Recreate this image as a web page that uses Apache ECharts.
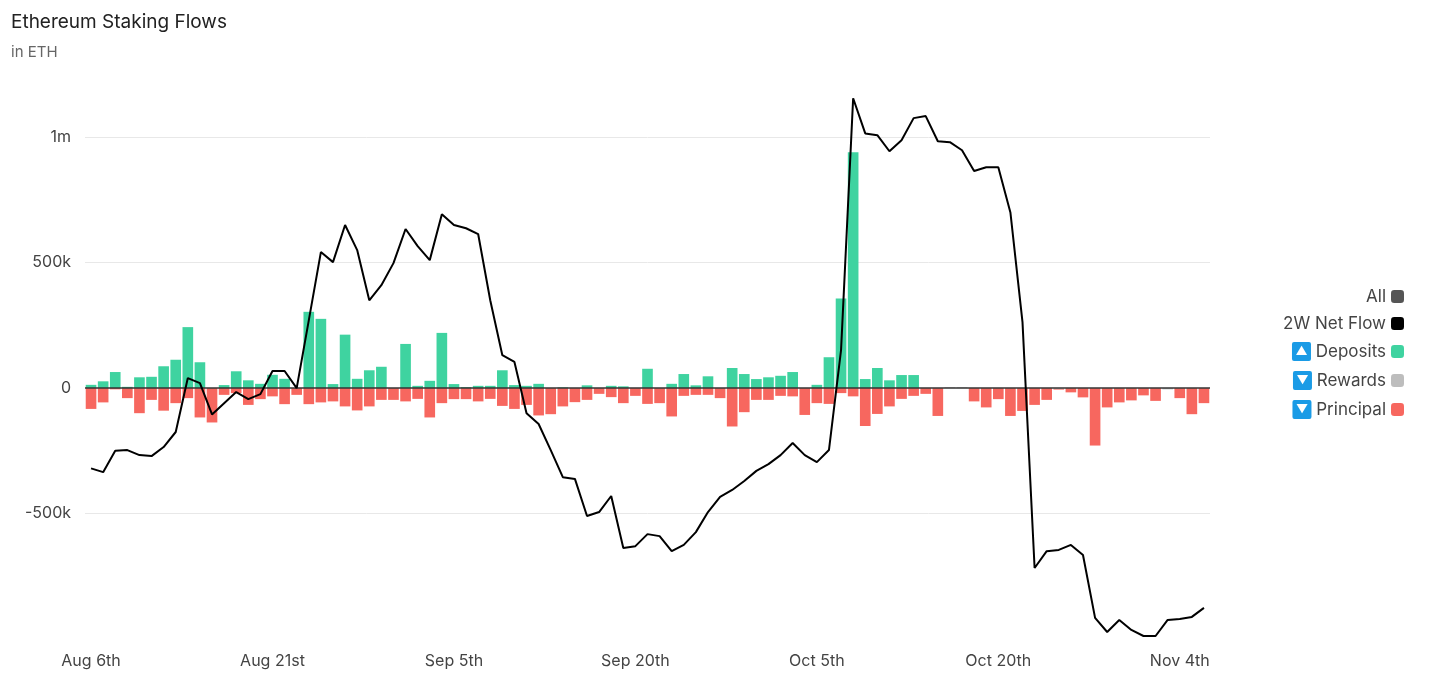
<!DOCTYPE html>
<html><head><meta charset="utf-8">
<script src="https://cdn.jsdelivr.net/npm/echarts@6/dist/echarts.min.js"></script>
<style>html,body{margin:0;padding:0;background:#fff}#c{width:1431px;height:677px}</style>
</head><body><div id="c"></div>
<script>
const months=['Aug','Sep','Oct','Nov'];
function buildDates(){const out=[];const d=new Date(Date.UTC(2024,7,6));for(let i=0;i<93;i++){const m=d.getUTCMonth(),day=d.getUTCDate();const suf=(day%10===1&&day!==11)?'st':(day%10===2&&day!==12)?'nd':(day%10===3&&day!==13)?'rd':'th';out.push(months[m-7]+' '+day+suf);d.setUTCDate(day+1);}return out;}
const categories=buildDates();
const gridValues=[-500000,500000,1000000];
const deposits=[13,27,64,5,43,45,87,113,243,103,0,12,67,31,17,53,37,0,304,276,16,213,37,71,85,0,176,9,29,220,16,4,9,9,71,12,9,17,0,3,0,11,0,9,7,0,77,0,17,56,11,47,0,80,56,36,43,49,64,0,13,123,357,940,36,80,31,52,52,0,0,0,0,0,0,0,0,0,0,0,0,0,0,0,0,0,0,0,0,0,0,0,0].map(v=>v*1000);
const rewards=[0,0,0,0,0,0,0,0,0,0,0,0,0,0,0,0,0,0,0,0,0,0,0,0,0,0,0,0,0,0,0,0,0,0,0,0,0,0,0,0,0,0,0,0,0,0,0,0,0,0,0,0,0,0,0,0,0,0,0,0,0,0,0,0,0,0,0,0,0,0,0,3,3,0,0,0,0,0,0,0,-3,0,0,0,0,0,0,0,0,-5,0,0,0].map(v=>v*1000);
const principal=[83,57,5,40,100,47,90,60,40,117,137,27,20,67,44,33,64,27,64,57,53,73,89,73,47,47,53,43,117,60,44,44,53,43,71,83,67,109,104,73,56,47,23,36,60,31,63,60,113,31,27,27,40,153,96,47,47,31,33,107,60,63,20,33,151,103,73,43,31,23,111,0,0,53,77,44,111,91,67,47,3,17,37,229,77,57,49,29,51,0,40,104,60].map(v=>-v*1000);
const netFlow=[-320,-335,-250,-247,-267,-271,-235,-175,40,20,-105,-60,-16,-44,-24,68,68,0,270,542,502,650,550,350,410,498,634,566,510,693,650,637,614,350,131,104,-100,-143,-247,-355,-362,-510,-494,-430,-637,-630,-582,-590,-650,-625,-574,-494,-434,-406,-370,-330,-303,-267,-219,-267,-295,-247,151,1155,1015,1008,944,988,1076,1084,984,980,948,865,880,880,700,263,-717,-650,-645,-625,-665,-916,-972,-924,-964,-988,-988,-924,-920,-912,-876].map(v=>v*1000);
const tri={up:'▲',down:'▼'};
const chart=echarts.init(document.getElementById('c'));
const fmtY=v=>v===0?'0':(Math.abs(v)>=1e6?(v/1e6)+'m':(v/1e3)+'k');
chart.setOption({
  animation:false,
  title:{text:'Ethereum Staking Flows',subtext:'in ETH',left:6,top:8,itemGap:13,
    textStyle:{fontFamily:'Inter',fontSize:19,fontWeight:'normal',color:'#222'},
    subtextStyle:{fontFamily:'Inter',fontSize:15,color:'#666'}},
  grid:{left:85,right:221,top:87,bottom:38},
  legend:{orient:'vertical',right:22,top:283,align:'right',itemGap:10,itemWidth:13,itemHeight:13,icon:'roundRect',
    textStyle:{fontFamily:'Inter',fontSize:17,color:'#444',rich:{b:{backgroundColor:'#1a9be6',color:'#fff',fontSize:12,width:19,height:19,align:'center',borderRadius:2}}},
    data:['All','2W Net Flow','Deposits','Rewards','Principal'],
    formatter:n=>n==='Deposits'?'{b|'+tri.up+'} '+n:(n==='Rewards'||n==='Principal')?'{b|'+tri.down+'} '+n:n},
  xAxis:{type:'category',data:categories,boundaryGap:true,
    axisLine:{show:false},axisTick:{show:false},
    axisLabel:{interval:14,fontFamily:'Inter',fontSize:16,color:'#444',margin:14}},
  yAxis:{type:'value',min:-1000000,max:1200000,interval:500000,
    axisLabel:{formatter:fmtY,fontFamily:'Inter',fontSize:16,color:'#444',showMinLabel:false,showMaxLabel:false,margin:14},
    splitLine:{show:false},axisLine:{show:false},axisTick:{show:false}},
  series:[
    {name:'All',type:'line',data:[],itemStyle:{color:'#555'}},
    {name:'Deposits',type:'bar',stack:'s',data:deposits,barWidth:'88%',itemStyle:{color:'#3fd3a0'},
      markLine:{silent:true,symbol:'none',label:{show:false},lineStyle:{color:'#e8e8e8',width:1,type:'solid'},data:gridValues.map(v=>({yAxis:v})),z:0}},
    {name:'Rewards',type:'bar',stack:'s',data:rewards,itemStyle:{color:'#bdbdbd'}},
    {name:'Principal',type:'bar',stack:'s',data:principal,itemStyle:{color:'#f7675f'},
      markLine:{silent:true,symbol:'none',label:{show:false},lineStyle:{color:'#333',width:1.5,type:'solid'},data:[{yAxis:0}]}},
    {name:'2W Net Flow',type:'line',data:netFlow,symbol:'none',itemStyle:{color:'#000'},lineStyle:{color:'#000',width:2},z:5}
  ]
});
</script></body></html>
